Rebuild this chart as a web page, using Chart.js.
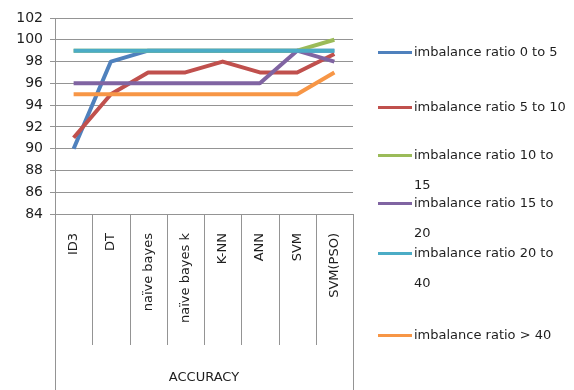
<!DOCTYPE html>
<html>
<head>
<meta charset="utf-8">
<script src="https://cdn.jsdelivr.net/npm/chart.js@4.4.1/dist/chart.umd.min.js"></script>
<style>
  html, body { margin: 0; padding: 0; background: #fff; }
  #wrap { position: relative; width: 574px; height: 390px; overflow: hidden; }
  #myChart { position: absolute; left: 0; top: 0; }
  #legend { position: absolute; left: 0; top: 0; font: 13px "DejaVu Sans", sans-serif; color: #1e1e1e; }
  .item { position: absolute; left: 378px; }
  .item .swatch { position: absolute; left: 0; top: 14px; width: 34px; height: 3px; }
  .item .text { position: absolute; left: 36px; width: 156px; line-height: 30px; white-space: normal; }
</style>
</head>
<body>
<div id="wrap">
  <canvas id="myChart" width="574" height="390"></canvas>
  <div id="legend"></div>
</div>
<script>
/* ---------- DATA ---------- */

const categories = ["ID3", "DT", "naïve bayes", "naïve bayes k", "K-NN", "ANN", "SVM", "SVM(PSO)"];

const seriesNames = [
  "imbalance ratio 0 to 5",
  "imbalance ratio 5 to 10",
  "imbalance ratio 10 to 15",
  "imbalance ratio 15 to 20",
  "imbalance ratio 20 to 40",
  "imbalance ratio > 40"
];

const ratio0to5   = [90, 98, 99, 99, 99, 99, 99, 99];
const ratio5to10  = [91, 95, 97, 97, 98, 97, 97, 98.7];
const ratio10to15 = [99, 99, 99, 99, 99, 99, 99, 100];
const ratio15to20 = [96, 96, 96, 96, 96, 96, 99, 98];
const ratio20to40 = [99, 99, 99, 99, 99, 99, 99, 99];
const ratioOver40 = [95, 95, 95, 95, 95, 95, 95, 97];

const seriesValues = [ratio0to5, ratio5to10, ratio10to15, ratio15to20, ratio20to40, ratioOver40];
const seriesColors = ["#4f81bd", "#c0504d", "#9bbb59", "#8064a2", "#4bacc6", "#f79646"];

const yMin = 84;
const yMax = 102;
const yStep = 2;

/* ---------- STYLE ---------- */

const fontFamily = '"DejaVu Sans", sans-serif';
const textColor = "#1e1e1e";
const lineGray = "#949494";
const legendTops = [37, 92, 140, 188, 238, 320];

/* ---------- CATEGORY BOX (dividers under the x axis) ---------- */

const categoryBox = {
  id: "categoryBox",
  afterDraw(chart) {
    const xScale = chart.scales.x;
    const { ctx, chartArea } = chart;
    ctx.save();
    ctx.strokeStyle = lineGray;
    ctx.lineWidth = 1;
    ctx.beginPath();
    for (let i = 1; i < categories.length; i++) {
      const px = Math.round((xScale.getPixelForTick(i - 1) + xScale.getPixelForTick(i)) / 2) + 0.5;
      ctx.moveTo(px, chartArea.bottom);
      ctx.lineTo(px, chartArea.bottom + 131);
    }
    const left = Math.round(chartArea.left) + 0.5;
    const right = Math.round(chartArea.right) + 0.5;
    ctx.moveTo(left, chartArea.bottom);
    ctx.lineTo(left, chart.height);
    ctx.moveTo(right, chartArea.bottom);
    ctx.lineTo(right, chart.height);
    ctx.stroke();
    ctx.restore();
  }
};

/* ---------- CHART ---------- */

const ctx = document.getElementById("myChart").getContext("2d");

const datasets = seriesNames.map((name, i) => ({
  label: name,
  data: seriesValues[i],
  borderColor: seriesColors[i],
  backgroundColor: seriesColors[i],
  borderWidth: 4,
  borderJoinStyle: "round",
  pointRadius: 0,
  tension: 0,
  fill: false,
  order: seriesNames.length - 1 - i   // later series drawn on top
}));

new Chart(ctx, {
  type: "line",
  data: { labels: categories, datasets: datasets },
  options: {
    responsive: false,
    animation: false,
    layout: { padding: { top: 18, right: 221, left: 0, bottom: 0 } },
    plugins: {
      legend: { display: false },
      tooltip: { enabled: false }
    },
    scales: {
      x: {
        offset: true,
        grid: { display: false, drawTicks: false },
        border: { display: true, color: lineGray },
        ticks: {
          autoSkip: false,
          minRotation: 90,
          maxRotation: 90,
          padding: 19,
          color: textColor,
          font: { family: fontFamily, size: 13 }
        },
        title: {
          display: true,
          text: "ACCURACY",
          color: textColor,
          font: { family: fontFamily, size: 13 },
          padding: { top: 0, bottom: 5 }
        },
        afterFit(scale) { scale.height = 176; }
      },
      y: {
        min: yMin,
        max: yMax,
        ticks: {
          stepSize: yStep,
          padding: 7,
          color: textColor,
          font: { family: fontFamily, size: 14 }
        },
        grid: { color: lineGray, tickLength: 5 },
        border: { color: lineGray },
        afterFit(scale) { scale.width = 55; }
      }
    }
  },
  plugins: [categoryBox]
});

/* ---------- LEGEND ---------- */

const legend = document.getElementById("legend");
seriesNames.forEach((name, i) => {
  const item = document.createElement("div");
  item.className = "item";
  item.style.top = legendTops[i] + "px";
  const swatch = document.createElement("div");
  swatch.className = "swatch";
  swatch.style.background = seriesColors[i];
  const text = document.createElement("div");
  text.className = "text";
  text.textContent = name;
  item.appendChild(swatch);
  item.appendChild(text);
  legend.appendChild(item);
});
</script>
</body>
</html>
